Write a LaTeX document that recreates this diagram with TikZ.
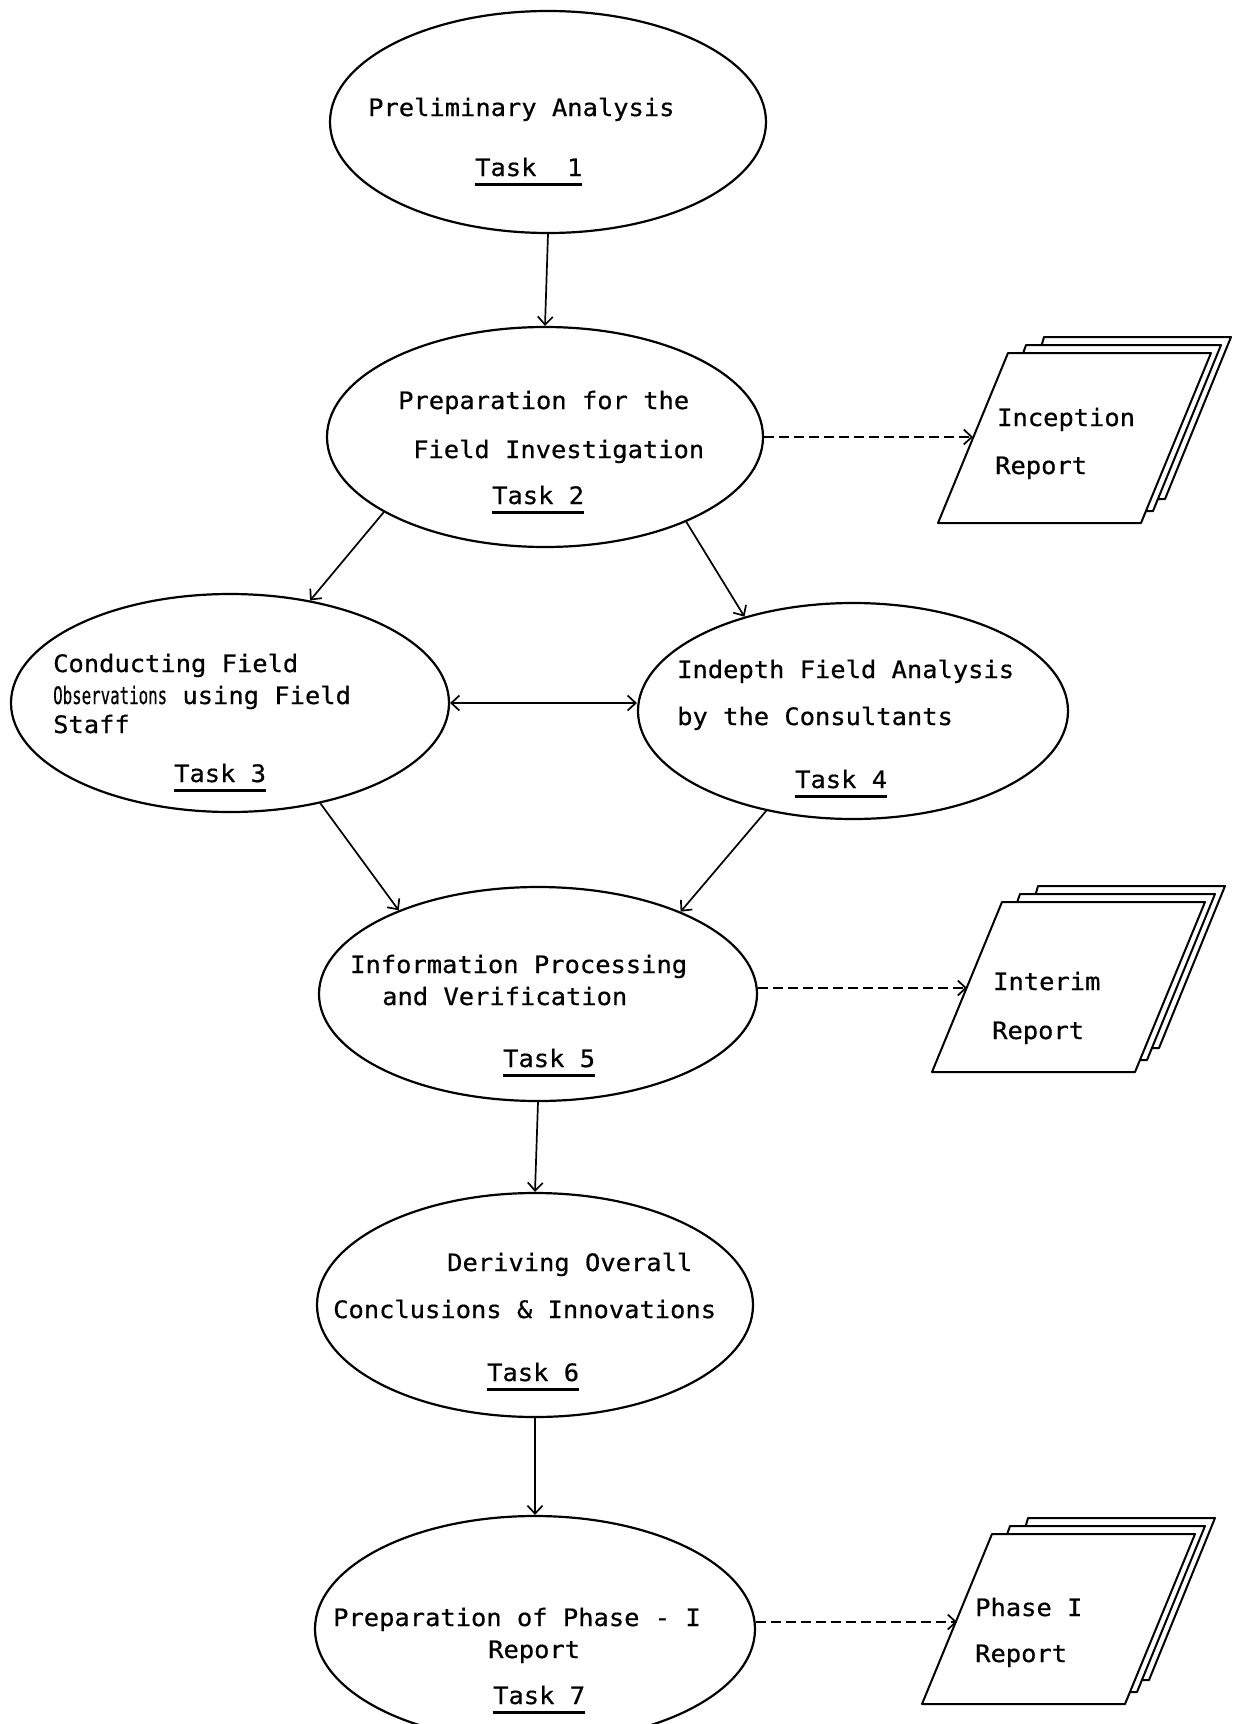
\documentclass[tikz,border=0pt]{standalone}
\usepackage{fontspec}
\usepackage{graphicx}
\newfontfamily\tw[FakeStretch=1.06,FakeBold=0.6]{DejaVu Sans Mono}
\usetikzlibrary{shapes.geometric,arrows.meta}
\newcommand\taskul[1]{\vtop{\hbox{#1}\kern7pt\hrule height 2.2pt}}
\newcommand\reportstack[2]{%
  \foreach \k in {2,1}{%
    \draw[sheet] ({#1+30*\k},{#2-12*\k}) -- ({#1+203+12*\k},{#2-12*\k}) -- ({#1+273+10*\k},{#2-170-8*\k}) -- ({#1+70+18*\k},{#2-170-8*\k}) -- cycle;}
  \draw[sheet] (#1,#2) -- ({#1+203},#2) -- ({#1+273},{#2-170}) -- ({#1+70},{#2-170}) -- cycle;}
\begin{document}
\begin{tikzpicture}[x=1pt,y=-1pt,
  task/.style={draw, ellipse, line width=2.2pt, inner sep=0pt},
  txt/.style={font=\tw\fontsize{24}{28}\selectfont, inner sep=0pt, anchor=base west},
  conn/.style={line width=1.7pt, -{Straight Barb[length=8pt,width=15pt]}},
  dconn/.style={conn, dash pattern=on 10pt off 5pt},
  sheet/.style={draw, fill=white, line width=2pt, line join=round}]
\fill[white] (0,0) rectangle (1236,1724);
\useasboundingbox (0,0) rectangle (1236,1724);

% ellipses
\node[task, minimum width=436pt, minimum height=222pt] (e1) at (548,122) {};
\node[task, minimum width=436pt, minimum height=220pt] (e2) at (545,437) {};
\node[task, minimum width=438pt, minimum height=218pt] (e3) at (230,703) {};
\node[task, minimum width=430pt, minimum height=216pt] (e4) at (853,711) {};
\node[task, minimum width=438pt, minimum height=214pt] (e5) at (538,994) {};
\node[task, minimum width=436pt, minimum height=224pt] (e6) at (535,1305) {};
\node[task, minimum width=440pt, minimum height=226pt] (e7) at (535,1629) {};

% texts
\node[txt] (t1a) at (368,116) {Preliminary Analysis};
\node[txt] (t1b) at (475,176) {\taskul{Task~~1}};

\node[txt] (t2a) at (398,409) {Preparation for the};
\node[txt] (t2b) at (413,458) {Field Investigation};
\node[txt] (t2c) at (492,504) {\taskul{Task 2}};

\node[txt] (t3a) at (53,672) {Conducting Field};
\node[txt] (t3b) at (53,704) {\scalebox{0.62}[1]{Observations} using Field};
\node[txt] (t3c) at (53,733) {Staff};
\node[txt] (t3d) at (174,782) {\taskul{Task 3}};

\node[txt] (t4a) at (677,678) {Indepth Field Analysis};
\node[txt] (t4b) at (677,725) {by the Consultants};
\node[txt] (t4c) at (795,788) {\taskul{Task 4}};

\node[txt] (t5a) at (350,973) {Information Processing};
\node[txt] (t5b) at (382,1005) {and Verification};
\node[txt] (t5c) at (503,1067) {\taskul{Task 5}};

\node[txt] (t6a) at (447,1271) {Deriving Overall};
\node[txt] (t6b) at (333,1318) {Conclusions \& Innovations};
\node[txt] (t6c) at (487,1381) {\taskul{Task 6}};

\node[txt] (t7a) at (333,1626) {Preparation of Phase - I};
\node[txt] (t7b) at (488,1658) {Report};
\node[txt] (t7c) at (493,1704) {\taskul{Task 7}};

% reports
\reportstack{938}{523}
\reportstack{932}{1072}
\reportstack{922}{1704}
\node[txt] (r1a) at (997,426) {Inception};
\node[txt] (r1b) at (995,474) {Report};
\node[txt] (r2a) at (993,990) {Interim};
\node[txt] (r2b) at (992,1039) {Report};
\node[txt] (r3a) at (975,1616) {Phase I};
\node[txt] (r3b) at (975,1662) {Report};
\coordinate (r1in) at (973,437);
\coordinate (r2in) at (967,988);
\coordinate (r3in) at (957,1622);

% connectors
\draw[conn] (e1.south) -- (e2.north);
\draw[conn] (e2.205) -- (e3.52);
\draw[conn] (e2.329) -- (e4.139);
\draw[line width=1.7pt, {Straight Barb[length=8pt,width=15pt]}-{Straight Barb[length=8pt,width=15pt]}] (e3.east) -- (e3.east -| e4.west);
\draw[conn] (e3.312) -- (e5.149);
\draw[conn] (e4.229) -- (e5.30);
\draw[conn] (e5.south) -- (e6.north);
\draw[conn] (e6.south) -- (e7.north);
\draw[dconn] (e2.east) -- (r1in);
\draw[dconn] (e5.east |- r2in) -- (r2in);
\draw[dconn] (e7.east |- r3in) -- (r3in);
\end{tikzpicture}
\end{document}
